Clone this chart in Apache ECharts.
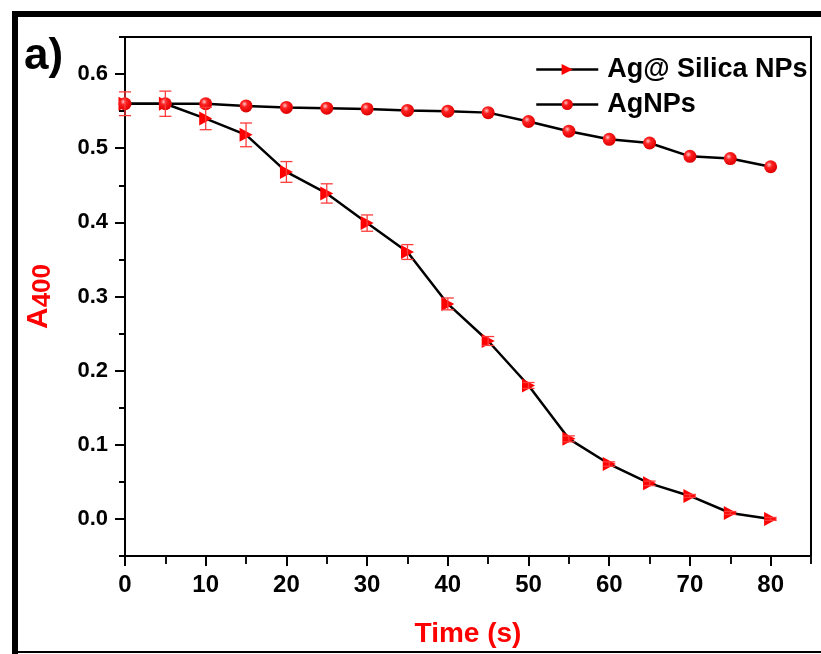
<!DOCTYPE html>
<html>
<head>
<meta charset="utf-8">
<script src="https://cdn.jsdelivr.net/npm/echarts@6/dist/echarts.min.js"></script>
<style>
html,body{margin:0;padding:0;background:#fff;}
#chart{width:821px;height:654px;}
</style>
</head>
<body>
<div id="chart"></div>
<script>
const timeValues = [0,5,10,15,20,25,30,35,40,45,50,55,60,65,70,75,80];
const silicaA   = [0.560,0.560,0.540,0.518,0.468,0.439,0.399,0.360,0.290,0.240,0.180,0.108,0.074,0.048,0.031,0.008,0.000];
const silicaErr = [0,0,0.015,0.016,0.014,0.013,0.011,0.010,0.008,0.006,0.004,0.004,0.003,0.003,0.002,0.002,0.002];
const agA       = [0.560,0.560,0.560,0.557,0.555,0.554,0.553,0.551,0.550,0.548,0.536,0.523,0.512,0.507,0.489,0.486,0.475];
const agErr     = [0.016,0.017,0,0,0,0,0,0,0,0,0,0,0,0,0,0,0];
const xMajorTicks = [0,10,20,30,40,50,60,70,80];
const xMinorTicks = [5,15,25,35,45,55,65,75,85];
const yMajorTicks = [0,0.1,0.2,0.3,0.4,0.5,0.6];
const yMinorTicks = [-0.05,0.05,0.15,0.25,0.35,0.45,0.55,0.65];
const seriesNames = ['Ag@ Silica NPs','AgNPs'];

const chart = echarts.init(document.getElementById('chart'), null, {renderer:'canvas'});
const RED = '#ff0000';
const triPath = 'path://M0,0 L10,5 L0,10 Z';
const ballColor = {type:'radial', x:0.38, y:0.35, r:0.65, colorStops:[
  {offset:0, color:'#ffc8c8'},{offset:0.35, color:'#ff2020'},{offset:1, color:'#dd0000'}]};

function errData(vals, errs){
  return timeValues.map((t,i)=>[t, vals[i]-errs[i], vals[i]+errs[i]]).filter((d,i)=>errs[i]>0);
}
function renderErr(params, api){
  const x = api.value(0);
  const lo = api.coord([x, api.value(1)]);
  const hi = api.coord([x, api.value(2)]);
  const w = 6;
  const st = {stroke:'#ff3b3b', lineWidth:1.3};
  return {type:'group', children:[
    {type:'line', shape:{x1:lo[0],y1:lo[1],x2:hi[0],y2:hi[1]}, style:st},
    {type:'line', shape:{x1:lo[0]-w,y1:lo[1],x2:lo[0]+w,y2:lo[1]}, style:st},
    {type:'line', shape:{x1:hi[0]-w,y1:hi[1],x2:hi[0]+w,y2:hi[1]}, style:st}
  ]};
}

const axisLineStyle = {color:'#000', width:2};
const option = {
  animation:false,
  backgroundColor:'#fff',
  grid:{left:125, right:10, top:37, bottom:98, show:true, borderColor:'#000', borderWidth:2, backgroundColor:'transparent'},
  legend:{
    orient:'vertical', left:530, top:51,
    itemWidth:62, itemHeight:14, itemGap:8,
    data:seriesNames,
    lineStyle:{color:'#000', width:2.5},
    textStyle:{fontFamily:'"Liberation Sans", Arial, sans-serif', fontWeight:'bold', fontSize:27, lineHeight:27, color:'#000', padding:[0,0,0,4]}
  },
  xAxis:[{
    type:'value', min:0, max:85, position:'bottom',
    name:'Time (s)', nameLocation:'middle', nameGap:64,
    nameTextStyle:{color:RED, fontFamily:'"Liberation Sans", Arial, sans-serif', fontWeight:'bold', fontSize:28},
    axisLine:{show:true, onZero:false, lineStyle:axisLineStyle},
    axisTick:{show:true, length:10, lineStyle:{color:'#000', width:2}, customValues:xMajorTicks},
    axisLabel:{customValues:xMajorTicks, margin:17, color:'#000', fontFamily:'"Liberation Sans", Arial, sans-serif', fontWeight:'bold', fontSize:24},
    splitLine:{show:false}
  },{
    type:'value', min:0, max:85, position:'bottom', offset:0,
    axisLine:{show:false, onZero:false},
    axisTick:{show:true, length:8, lineStyle:{color:'#111', width:2}, customValues:xMinorTicks},
    axisLabel:{show:false},
    splitLine:{show:false}
  }],
  yAxis:[{
    type:'value', min:-0.05, max:0.65, position:'left',
    name:'{a|A}{s|400}', nameLocation:'middle', nameGap:69, nameRotate:90,
    nameTextStyle:{color:RED, fontFamily:'"Liberation Sans", Arial, sans-serif', fontWeight:'bold',
      rich:{a:{fontSize:30, color:RED, fontWeight:'bold', lineHeight:34, verticalAlign:'middle'},
            s:{fontSize:26, color:RED, fontWeight:'bold', lineHeight:22, verticalAlign:'bottom'}}},
    axisLine:{show:true, onZero:false, lineStyle:axisLineStyle},
    axisTick:{show:true, length:10, lineStyle:{color:'#000', width:2}, customValues:yMajorTicks},
    axisLabel:{customValues:yMajorTicks, margin:17, color:'#000', fontFamily:'"Liberation Sans", Arial, sans-serif', fontWeight:'bold', fontSize:22,
      formatter:v=>v.toFixed(1)},
    splitLine:{show:false}
  },{
    type:'value', min:-0.05, max:0.65, position:'left',
    axisLine:{show:false, onZero:false},
    axisTick:{show:true, length:6, lineStyle:{color:'#000', width:2}, customValues:yMinorTicks},
    axisLabel:{show:false},
    splitLine:{show:false}
  }],
  series:[
    {name:seriesNames[0], type:'line', xAxisIndex:0, yAxisIndex:0, z:2,
     data:timeValues.map((t,i)=>[t, silicaA[i]]),
     symbol:triPath, symbolSize:[13,14], showAllSymbol:true,
     lineStyle:{color:'#000', width:2.5},
     itemStyle:{color:RED, borderWidth:0}},
    {name:seriesNames[1], type:'line', xAxisIndex:0, yAxisIndex:0, z:2,
     data:timeValues.map((t,i)=>[t, agA[i]]),
     symbol:'circle', symbolSize:13, showAllSymbol:true,
     lineStyle:{color:'#000', width:2.5},
     itemStyle:{color:ballColor, borderWidth:0}},
    {type:'custom', xAxisIndex:0, yAxisIndex:0, z:3, silent:true,
     data:errData(silicaA, silicaErr), renderItem:renderErr, encode:{x:0, y:[1,2]}},
    {type:'custom', xAxisIndex:0, yAxisIndex:0, z:3, silent:true,
     data:errData(agA, agErr), renderItem:renderErr, encode:{x:0, y:[1,2]}}
  ],
  graphic:[
    {type:'rect', left:12, top:11, shape:{width:6, height:643}, style:{fill:'#000'}, silent:true},
    {type:'rect', left:12, top:11, shape:{width:809, height:6}, style:{fill:'#000'}, silent:true},
    {type:'rect', left:12, top:651, shape:{width:809, height:2}, style:{fill:'#000'}, silent:true},
    {type:'text', left:24, top:35, style:{text:'a)', fill:'#000', font:'bold 44px "Liberation Sans", Arial, sans-serif'}, silent:true}
  ]
};
chart.setOption(option);
</script>
</body>
</html>
